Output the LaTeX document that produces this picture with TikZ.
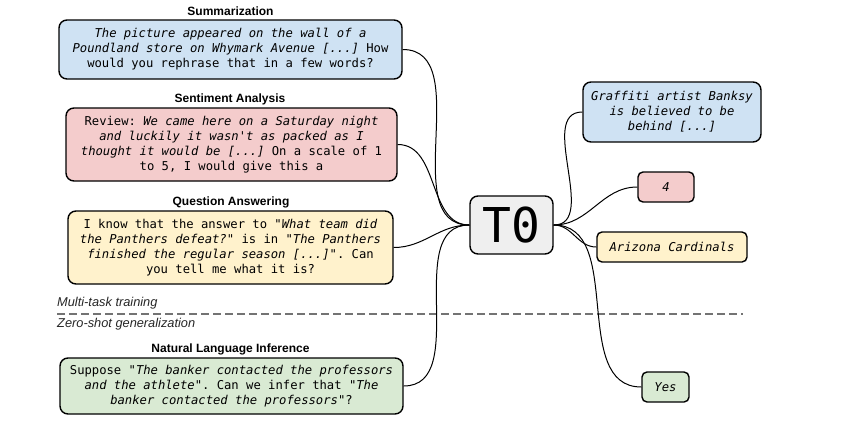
\documentclass[tikz,border=0pt]{standalone}
\usepackage{fontspec}
\setsansfont{Liberation Sans}
\setmonofont{DejaVu Sans Mono}

\definecolor{sumblue}{HTML}{CFE2F3}
\definecolor{sentpink}{HTML}{F4CCCC}
\definecolor{qayellow}{HTML}{FFF2CC}
\definecolor{nligreen}{HTML}{D9EAD3}
\definecolor{modelgray}{HTML}{EFEFEF}

\begin{document}
\begin{tikzpicture}[x=1pt,y=-1pt]

	\def \split{314}
	\tikzstyle{t-box}=[draw=black,line width=1.4pt,rounded corners=8pt,align=center,inner sep=0pt,font=\ttfamily\fontsize{12.2}{15}\selectfont]
	\tikzstyle{a-box}=[t-box,rounded corners=5pt]
	\tikzstyle{title}=[font=\sffamily\bfseries\fontsize{12}{14}\selectfont]
	\tikzstyle{annot}=[anchor=west,inner sep=0pt,font=\sffamily\itshape\fontsize{12.8}{14}\selectfont,text=black!85]
	\tikzstyle{link}=[line width=1pt,out=0,in=180]

	\useasboundingbox (0,0) rectangle (841,424);

	% labels
	\node[title] (sumtitle)  at (230.5,11)  {Summarization};
	\node[title] (senttitle) at (230,99)    {Sentiment Analysis};
	\node[title] (qatitle)   at (231,202)   {Question Answering};
	\node[title] (nlititle)  at (230.5,349) {Natural Language Inference};
	\node[annot] (multilabel) at (57,303) {Multi-task training};
	\node[annot] (zerolabel)  at (57,324) {Zero-shot generalization};
	\coordinate (splitl) at (57,\split);
	\coordinate (splitr) at (743,\split);
	\draw[black!55,line width=1.3pt,dash pattern=on 7.5pt off 4.5pt] (splitl) -- (splitr);

	% prompts
	\node[t-box,fill=sumblue,minimum width=343pt,minimum height=59pt] (sum) at (230.5,49.5)
		{\textit{The picture appeared on the wall of a}\\
		 \textit{Poundland store on Whymark Avenue [...]} How\\
		 would you rephrase that in a few words?};
	\node[t-box,fill=sentpink,minimum width=331pt,minimum height=73pt] (sent) at (231.5,144.5)
		{Review: \textit{We came here on a Saturday night}\\
		 \textit{and luckily it wasn't as packed as I}\\
		 \textit{thought it would be [...]} On a scale of 1\\
		 to 5, I would give this a};
	\node[t-box,fill=qayellow,minimum width=325pt,minimum height=73pt] (qa) at (230.5,247.5)
		{I know that the answer to "\textit{What team did}\\
		 \textit{the Panthers defeat?}" is in "\textit{The Panthers}\\
		 \textit{finished the regular season [...]}". Can\\
		 you tell me what it is?};
	\node[t-box,fill=nligreen,minimum width=343pt,minimum height=56pt] (nli) at (231.5,386)
		{Suppose "\textit{The banker contacted the professors}\\
		 \textit{and the athlete}". Can we infer that "\textit{The}\\
		 \textit{banker contacted the professors}"?};

	% model
	\node[t-box,fill=modelgray,minimum width=83pt,minimum height=58pt,font=\ttfamily\fontsize{48}{48}\selectfont] (t0) at (511.5,225) {T0};

	% answers
	\node[t-box,fill=sumblue,minimum width=178pt,minimum height=60pt] (graf) at (672,112)
		{\textit{Graffiti artist Banksy}\\ \textit{is believed to be}\\ \textit{behind [...]}};
	\node[a-box,fill=sentpink,minimum width=56pt,minimum height=30pt] (four) at (666,187) {\textit{4}};
	\node[a-box,fill=qayellow,minimum width=150pt,minimum height=30pt] (ariz) at (672,247) {\textit{Arizona Cardinals}};
	\node[a-box,fill=nligreen,minimum width=47pt,minimum height=30pt] (yes) at (665.5,387) {\textit{Yes}};

	% links
	\draw[link] (sum.east)  to (t0.west);
	\draw[link] (sent.east) to (t0.west);
	\draw[link] (qa.east)   to (t0.west);
	\draw[link] (nli.east)  to (t0.west);
	\draw[link] (t0.east) to (graf.west);
	\draw[link] (t0.east) to (four.west);
	\draw[link] (t0.east) to (ariz.west);
	\draw[link] (t0.east) to (yes.west);
\end{tikzpicture}
\end{document}
